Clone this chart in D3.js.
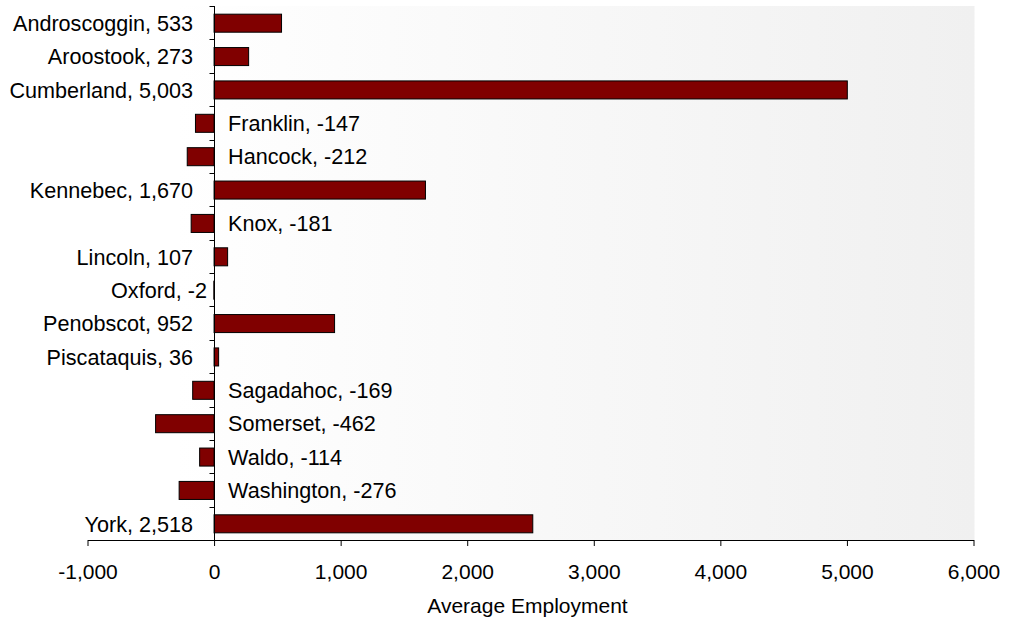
<!DOCTYPE html>
<html>
<head>
<meta charset="utf-8">
<script src="https://cdn.jsdelivr.net/npm/d3@7"></script>
<style>
  html, body { margin: 0; padding: 0; background: #fff; }
  svg { display: block; font-family: "Liberation Sans", Arial, sans-serif; }
</style>
</head>
<body>
<svg id="chart" width="1018" height="622"></svg>
<script>
const counties = ["Androscoggin", "Aroostook", "Cumberland", "Franklin", "Hancock", "Kennebec", "Knox", "Lincoln", "Oxford", "Penobscot", "Piscataquis", "Sagadahoc", "Somerset", "Waldo", "Washington", "York"];
const employmentChange = [533, 273, 5003, -147, -212, 1670, -181, 107, -2, 952, 36, -169, -462, -114, -276, 2518];
const xTicks = [-1000, 0, 1000, 2000, 3000, 4000, 5000, 6000];
const xTitle = "Average Employment";

(function () {
const svg = d3.select("#chart");
const pLeft = 87.5, pRight = 973.5, pTop = 6, pBottom = 540;
const fontSize = 21;
const labelSize = 21.6;

const x = d3.scaleLinear().domain([-1000, 6000]).range([pLeft, pRight]);
const y = d3.scaleBand().domain(counties).range([pTop, pBottom]).paddingInner(0.46).paddingOuter(0.23);

const fmt = v => d3.format(",")(v).replace("\u2212", "-");

// background gradient
const defs = svg.append("defs");
const grad = defs.append("linearGradient").attr("id", "bg").attr("x1", "0").attr("x2", "1").attr("y1", "0").attr("y2", "0");
grad.append("stop").attr("offset", "0.1").attr("stop-color", "#ffffff");
grad.append("stop").attr("offset", "1").attr("stop-color", "#f0f0f0");
svg.append("rect").attr("x", pLeft).attr("y", pTop).attr("width", pRight - pLeft + 1).attr("height", pBottom - pTop)
  .attr("fill", "url(#bg)");

// bars
const data = counties.map((c, i) => ({ c, v: employmentChange[i] }));
svg.append("g").selectAll("rect").data(data).join("rect")
  .attr("x", d => Math.min(x(0), x(d.v)))
  .attr("y", d => y(d.c) + 0.5)
  .attr("width", d => Math.max(0.5, Math.abs(x(d.v) - x(0))))
  .attr("height", y.bandwidth())
  .attr("fill", "#800000")
  .attr("stroke", "#000")
  .attr("stroke-width", 1);

// x axis
const xAxis = d3.axisBottom(x).tickValues(xTicks).tickFormat(fmt).tickSizeInner(6).tickSizeOuter(0).tickPadding(18);
const gx = svg.append("g").attr("transform", `translate(0,${pBottom})`).call(xAxis);
gx.select(".domain").attr("stroke", "#000");
gx.selectAll(".tick line").attr("stroke", "#000");
gx.selectAll(".tick text").attr("font-size", fontSize).attr("font-family", "Liberation Sans, Arial, sans-serif").attr("fill", "#000");

// y axis at zero
const x0 = Math.round(x(0)) + 0.5;
const yg = svg.append("g");
yg.append("line").attr("x1", x0).attr("x2", x0).attr("y1", pTop).attr("y2", pBottom).attr("stroke", "#000");
const boundaries = counties.map(c => y(c) - y.step() * y.paddingInner() / 2);
yg.selectAll("line.t").data(boundaries).join("line").attr("class", "t")
  .attr("x1", x0 - 5).attr("x2", x0)
  .attr("y1", d => Math.round(d) + 0.5).attr("y2", d => Math.round(d) + 0.5)
  .attr("stroke", "#000");

// data labels
svg.append("g").selectAll("text").data(data).join("text")
  .attr("x", d => d.v >= 0 ? x(0) - 21 : (d.v > -10 ? x(0) - 7 : x(0) + 14))
  .attr("y", d => y(d.c) + y.bandwidth() / 2 + 0.5)
  .attr("dy", "0.36em")
  .attr("text-anchor", d => (d.v > -10) ? "end" : "start")
  .attr("font-size", labelSize)
  .attr("fill", "#000")
  .text(d => `${d.c}, ${fmt(d.v)}`);

// axis title
svg.append("text")
  .attr("x", (pLeft + pRight) / 2 - 3)
  .attr("y", 613)
  .attr("text-anchor", "middle")
  .attr("font-size", fontSize)
  .attr("fill", "#000")
  .text(xTitle);
})();
</script>
</body>
</html>
